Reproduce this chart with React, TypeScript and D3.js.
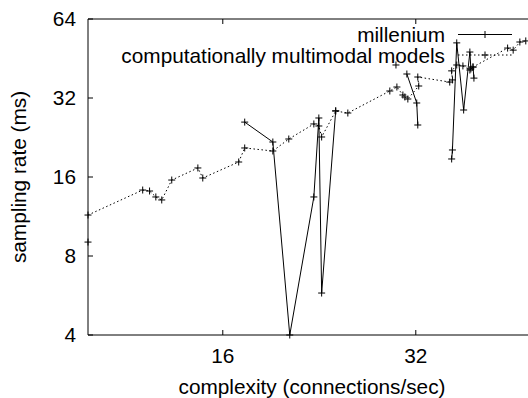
import { useMemo } from "react";
import * as d3 from "d3";

// complexity (connections/sec) vs sampling rate (ms); null breaks a line
const milleniumX = [9.86, null, 17.31, 19.15, 20.35, 22.19, 22.59, 22.82, 24.0, null, 29.8, null, 30.99, 32.11, 32.23, null, 36.4, 36.5, 37.07, 38.0, 38.86, 39.0, 39.3, 39.43];
const milleniumY = [9.04, null, 25.9, 21.75, 4.0, 13.43, 26.85, 5.78, 28.6, null, 42.75, null, 39.5, 30.63, 25.25, null, 18.74, 20.28, 51.9, 28.8, 47.9, 41.3, 42.0, 38.1];

const multimodalX = [9.86, 12.0, 12.3, 12.58, 12.85, 13.32, 14.63, 14.89, 16.94, 17.31, 19.15, 20.28, 22.19, 22.59, 22.82, 24.0, 25.07, 29.15, 29.9, 30.55, 30.77, 31.1, 32.34, 32.23, 36.15, 36.5, 36.4, 37.07, 37.9, 38.86, 39.3, 44.5, 45.4, 46.5, 47.5];
const multimodalY = [11.46, 14.27, 14.15, 13.43, 13.08, 15.58, 17.32, 15.86, 18.25, 20.64, 20.1, 22.33, 25.48, 25.03, 22.73, 28.54, 28.05, 34.03, 35.24, 32.85, 32.29, 31.72, 35.55, 38.47, 36.8, 37.5, 40.6, 42.75, 42.4, 40.9, 42.0, 49.6, 48.7, 52.3, 52.8];

const xTicks = [16, 32];
const yTicks = [4, 8, 16, 32, 64];

const seriesNames = ["millenium", "computationally multimodal models"];

const W = 528;
const H = 398;
const LEFT = 88;
const RIGHT = 535;
const TOP = 19;
const BOTTOM = 335;
const FONT = "'Liberation Sans', Arial, Helvetica, sans-serif";
const FS = 20.8;
const DOT = "1.5 2.5";

type Pt = { x: number | null; y: number | null };

const zip = (xs: (number | null)[], ys: (number | null)[]): Pt[] =>
    xs.map((x, i) => ({ x, y: ys[i] }));

const Plus = ({ cx, cy }: { cx: number; cy: number }) => (
    <path d={`M${cx - 3.5},${cy}H${cx + 3.5}M${cx},${cy - 3.5}V${cy + 3.5}`} stroke="#000" strokeWidth={1} />
);

export default function App() {
    const x = useMemo(() => d3.scaleLog().base(2).domain([9.86, 49.1]).range([LEFT, RIGHT]), []);
    const y = useMemo(() => d3.scaleLog().base(2).domain([4, 64]).range([BOTTOM, TOP]), []);

    const line = d3
        .line<Pt>()
        .defined((d) => d.x != null && d.y != null)
        .x((d) => x(d.x as number))
        .y((d) => y(d.y as number));

    const mill = zip(milleniumX, milleniumY);
    const multi = zip(multimodalX, multimodalY);

    return (
        <svg width={W} height={H} style={{ position: "absolute", left: 0, top: 0 }} fontFamily={FONT} fontSize={FS}>
            <rect width={W} height={H} fill="#fff" />

            {/* border: left, top, bottom (right side is off the picture) */}
            <path d={`M${RIGHT},${TOP}H${LEFT}V${BOTTOM}H${RIGHT}`} fill="none" stroke="#000" strokeWidth={1} />

            {yTicks.map((t) => (
                <g key={"y" + t}>
                    <line x1={LEFT} x2={LEFT + 5} y1={y(t)} y2={y(t)} stroke="#000" />
                    <text x={76} y={y(t) + 7.4} textAnchor="end">{t}</text>
                </g>
            ))}
            {xTicks.map((t) => (
                <g key={"x" + t}>
                    <line x1={x(t)} x2={x(t)} y1={BOTTOM} y2={BOTTOM - 5} stroke="#000" />
                    <line x1={x(t)} x2={x(t)} y1={TOP} y2={TOP + 5} stroke="#000" />
                    <text x={x(t)} y={363} textAnchor="middle">{t}</text>
                </g>
            ))}

            <text x={312} y={394} textAnchor="middle">complexity (connections/sec)</text>
            <text transform="translate(26,177) rotate(-90)" textAnchor="middle">sampling rate (ms)</text>

            {/* series */}
            <path d={line(multi) ?? ""} fill="none" stroke="#000" strokeWidth={1} strokeDasharray={DOT} />
            {multi.map((d, i) => (
                <Plus key={"m" + i} cx={x(d.x as number)} cy={y(d.y as number)} />
            ))}
            <path d={line(mill) ?? ""} fill="none" stroke="#000" strokeWidth={1} />
            {mill
                .filter((d) => d.x != null)
                .map((d, i) => (
                    <Plus key={"l" + i} cx={x(d.x as number)} cy={y(d.y as number)} />
                ))}

            {/* legend */}
            <text x={445} y={42} textAnchor="end">{seriesNames[0]}</text>
            <line x1={458} x2={512} y1={34.5} y2={34.5} stroke="#000" />
            <Plus cx={485} cy={34.5} />
            <text x={445} y={62.5} textAnchor="end">{seriesNames[1]}</text>
            <line x1={458} x2={512} y1={55} y2={55} stroke="#000" strokeDasharray={DOT} />
            <Plus cx={485} cy={55} />
        </svg>
    );
}
